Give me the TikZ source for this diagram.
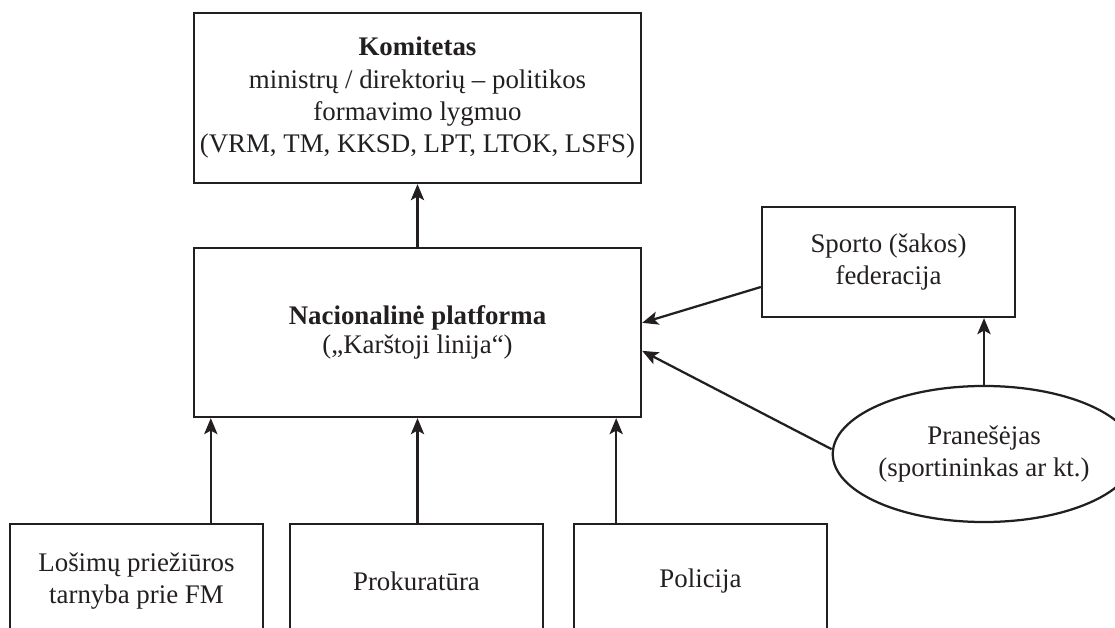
\documentclass[tikz,border=0pt]{standalone}
\usepackage{fontspec}
\setmainfont{Liberation Serif}
\usetikzlibrary{arrows.meta,shapes.geometric}
\definecolor{ink}{RGB}{35,31,32}
\begin{document}
\begin{tikzpicture}[x=0.025cm, y=-0.025cm,
    box/.style={draw=ink, line width=1.6pt, align=center, inner sep=1pt,
      font=\fontsize{19.1}{23}\selectfont, text=ink},
    oval/.style={box, ellipse},
    arr/.style={draw=ink, line width=1.6pt,
      -{Stealth[length=4mm, width=3.3mm, inset=0.9mm]}}]
  % Frame
  \clip (0,0) rectangle (1115,628);
  % Upper level
  \node[box, minimum width=11.175cm, minimum height=4.25cm] (kom) at (417.5,98)
    {\textbf{Komitetas}\\ministrų / direktorių -- politikos\\formavimo lygmuo\\(VRM, TM, KKSD, LPT, LTOK, LSFS)};
  \node[box, minimum width=11.175cm, minimum height=4.225cm] (nac) at (417.5,332.5)
    {\textbf{Nacionalinė platforma}\\[-2pt](„Karštoji linija“)};
  % Right side
  \node[box, minimum width=6.325cm, minimum height=2.75cm] (sport) at (888.5,262)
    {Sporto (šakos)\\federacija};
  \node[oval, minimum width=6.85cm, minimum height=3.4cm] (pran) at (984,454)
    {Pranešėjas\\(sportininkas ar kt.)};
  % Institutions
  \node[box, minimum width=6.325cm, minimum height=2.85cm] (los) at (136.5,581)
    {Lošimų priežiūros\\tarnyba prie FM};
  \node[box, minimum width=6.325cm, minimum height=2.85cm] (prok) at (416.5,581)
    {Prokuratūra};
  \node[box, minimum width=6.325cm, minimum height=2.85cm] (pol) at (700.5,581)
    {Policija};
  % Entry points on the platform
  \path (nac.south west) ++(18,0) coordinate (nin1);
  \path (nac.south east) ++(-26,0) coordinate (nin3);
  \path (nac.north east) ++(0,76) coordinate (nin4);
  \path (nac.north east) ++(0,104) coordinate (nin5);
  % Connectors
  \draw[arr] (nac.north) -- (kom.south);
  \draw[arr] (los.north -| nin1) -- (nin1);
  \draw[arr] (prok.north -| nac.south) -- (nac.south);
  \draw[arr] (pol.north -| nin3) -- (nin3);
  \draw[arr] ([yshift=-0.625cm]sport.west) -- (nin4);
  \draw[arr] ([yshift=0.12cm]pran.west) -- (nin5);
  \draw[arr] (pran.north) -- (pran.north |- sport.south);
\end{tikzpicture}
\end{document}
